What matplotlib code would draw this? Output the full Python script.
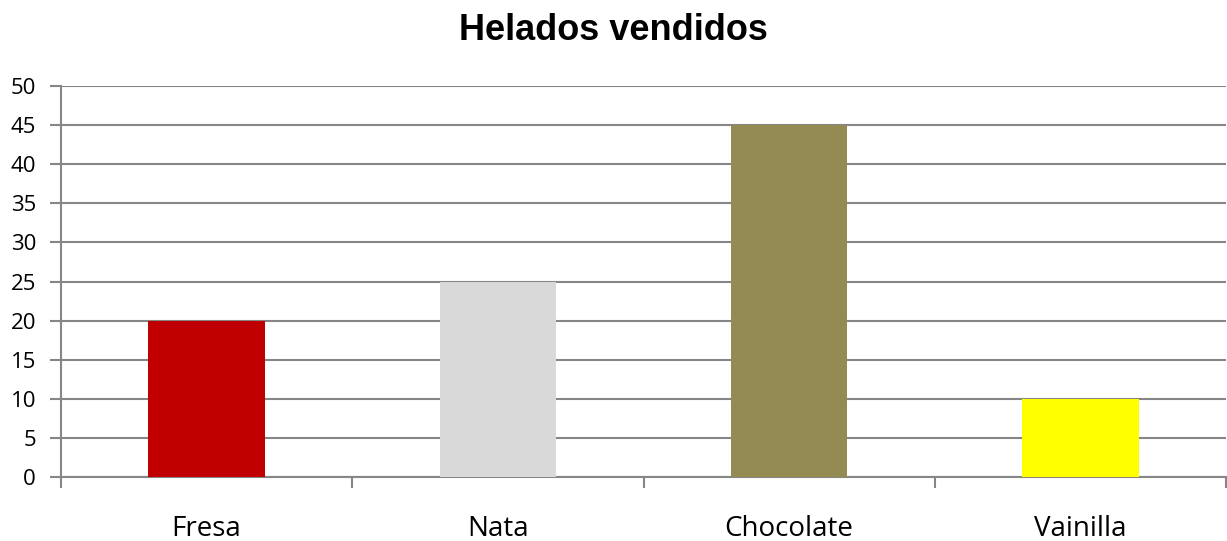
import matplotlib.pyplot as plt
import numpy as np

sabores = ['Fresa', 'Nata', 'Chocolate', 'Vainilla']
vendidos = [20, 25, 45, 10]
colores = ['#C00000', '#D9D9D9', '#948A54', '#FFFF00']

fig = plt.figure(figsize=(12.27, 5.41), dpi=100)
ax = fig.add_axes([61/1227, 64/541, 1165/1227, 391/541])

x = np.arange(len(sabores))
ax.bar(x, vendidos, width=0.4, color=colores, zorder=3)

ax.set_xlim(-0.5, len(sabores) - 0.5)
ax.set_ylim(0, 50)
ax.set_yticks(np.arange(0, 51, 5))
ax.yaxis.grid(True, color='#868686', linewidth=1.5, zorder=0)

# ticks at category boundaries, labels at centers
ax.set_xticks(np.arange(-0.5, len(sabores)), labels=[''] * (len(sabores) + 1))
ax.set_xticks(x, labels=sabores, minor=True)
ax.tick_params(axis='x', which='major', length=8, width=1.5, color='#868686')
ax.tick_params(axis='x', which='minor', length=0, pad=27, labelsize=20)
ax.tick_params(axis='y', length=8, width=1.5, color='#868686', labelsize=16, pad=10)

for s in ['top', 'right']:
    ax.spines[s].set_visible(False)
for s in ['left', 'bottom']:
    ax.spines[s].set_color('#868686')
    ax.spines[s].set_linewidth(1.5)

for lab in ax.get_xticklabels(minor=True) + ax.get_yticklabels():
    lab.set_fontfamily('Open Sans')

fig.text(0.5, 1 - 30/541, 'Helados vendidos', ha='center', va='center',
         fontsize=26, fontweight='bold', fontfamily='Liberation Sans')

fig.savefig('out.png', dpi=100)
